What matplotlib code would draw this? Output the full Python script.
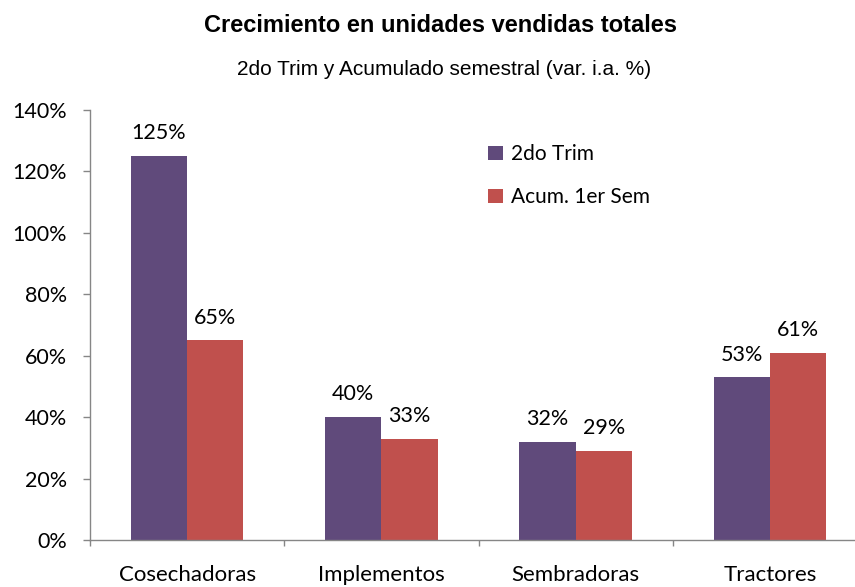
import matplotlib.pyplot as plt
import numpy as np

categories = ["Cosechadoras", "Implementos", "Sembradoras", "Tractores"]
trim2 = [125, 40, 32, 53]
acum1 = [65, 33, 29, 61]
series_names = ["2do Trim", "Acum. 1er Sem"]
yticks = [0, 20, 40, 60, 80, 100, 120, 140]

purple = "#604A7B"
red = "#C0504D"
axis_grey = "#868686"
lab_font = "Lato"

fig = plt.figure(figsize=(8.55, 5.87), dpi=100)
W, H = 855, 587
# axes box in pixels: left 90, right 867 (runs off the picture), top 110, bottom 540
ax = fig.add_axes([90 / W, 1 - 540 / H, (867 - 90) / W, (540 - 110) / H])

x = np.arange(len(categories))
bw = 0.29
b1 = ax.bar(x - bw / 2, trim2, bw, color=purple, label=series_names[0])
b2 = ax.bar(x + bw / 2, acum1, bw, color=red, label=series_names[1])

for bars, vals in ((b1, trim2), (b2, acum1)):
    for b, v in zip(bars, vals):
        ax.annotate(f"{v}%", (b.get_x() + b.get_width() / 2, v),
                    xytext=(0, 12), textcoords="offset points",
                    ha="center", va="baseline", fontsize=15.5, family=lab_font)

ax.set_xlim(-0.5, len(categories) - 0.5)
ax.set_ylim(0, 140)
ax.set_yticks(yticks)
ax.set_yticklabels([f"{t}%" for t in yticks], fontsize=15.5, family=lab_font)

# category boundaries as ticks, names written under each group
ax.set_xticks(np.arange(len(categories) + 1) - 0.5)
ax.set_xticklabels([])
for i, c in enumerate(categories):
    ax.text(i, -41 / 430, c, transform=ax.get_xaxis_transform(),
            ha="center", va="baseline", fontsize=16, family=lab_font)

ax.tick_params(axis="x", direction="out", length=4.5, color=axis_grey, width=1)
ax.tick_params(axis="y", direction="out", length=5, color=axis_grey,
               width=1, pad=11.5)

for s in ("top", "right"):
    ax.spines[s].set_visible(False)
for s in ("left", "bottom"):
    ax.spines[s].set_color(axis_grey)
    ax.spines[s].set_linewidth(1)

leg = ax.legend(loc="upper left", bbox_to_anchor=((480 - 90) / (867 - 90), (540 - 136) / 430),
                frameon=False, prop={"family": lab_font, "size": 15},
                handlelength=0.7, handleheight=0.7, handletextpad=0.4,
                labelspacing=1.1, borderaxespad=0)

fig.text(440 / W, 1 - 32 / H, "Crecimiento en unidades vendidas totales",
         ha="center", va="baseline", fontsize=17, fontweight="bold",
         family="Liberation Sans")
fig.text(444 / W, 1 - 75 / H, "2do Trim y Acumulado semestral (var. i.a. %)",
         ha="center", va="baseline", fontsize=15, family="Liberation Sans")

fig.savefig("out.png", dpi=100)
